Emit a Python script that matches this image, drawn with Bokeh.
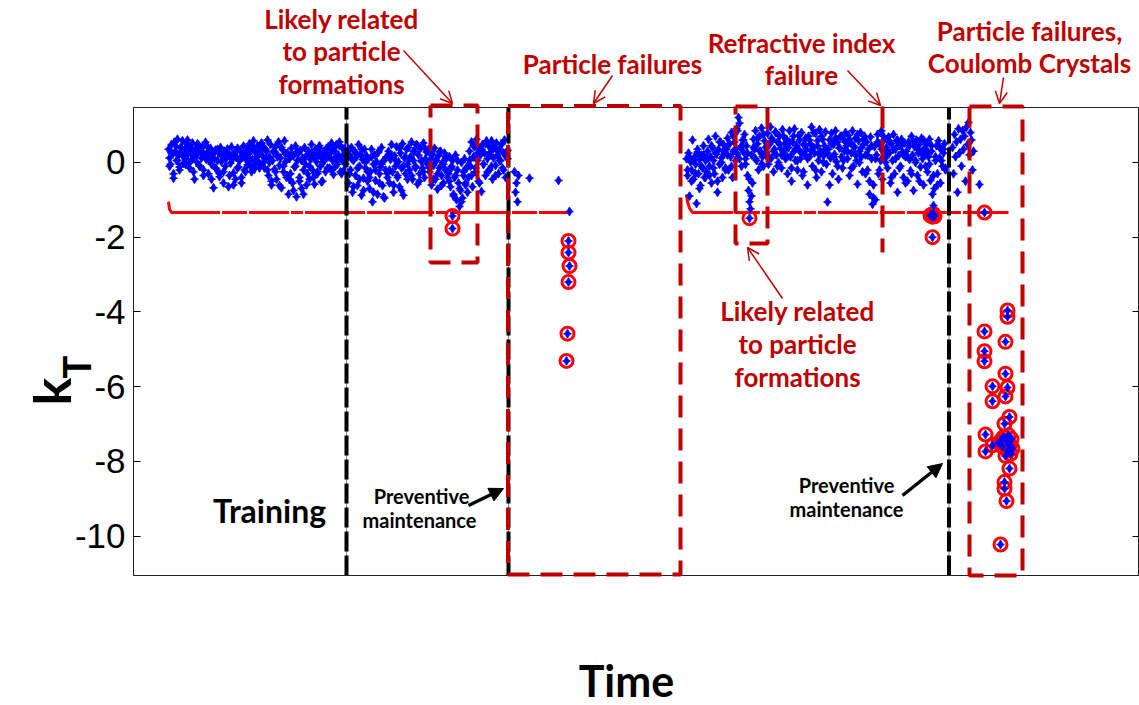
import numpy as np
from bokeh.plotting import figure
from bokeh.models import (Range1d, LinearAxis, FixedTicker, Label, Arrow,
                          OpenHead, NormalHead)
from bokeh.embed import file_html
from bokeh.resources import INLINE

# ---------------- data (time index, k_T values) -------------
seg1_start = 35
seg1_kt = [
    0.35, 0.12, -0.05, 0.48, 0.22, -0.42, 0.55, 0.30, 0.05, 0.62, 0.18, -0.12, 0.40, 0.26, 0.58, -0.02, 0.34, 0.10, 0.50, 0.21,
    0.44, -0.15, 0.28, 0.06, 0.52, 0.15, -0.45, 0.36, 0.02, 0.24, 0.47, -0.08, 0.31, 0.12, 0.40, -0.20, 0.18, 0.54, 0.08, 0.27,
    -0.30, 0.14, 0.38, -0.05, 0.22, -0.68, 0.10, 0.33, -0.18, 0.05, 0.26, -0.38, 0.40, 0.02, 0.17, -0.25, 0.30, -0.10, 0.12, 0.36,
    -0.65, 0.20, -0.02, 0.42, 0.08, -0.28, 0.25, -0.45, 0.15, 0.38, -0.12, 0.04, 0.30, -0.55, 0.18, 0.44, -0.20, 0.10, 0.28, -0.06,
    0.22, 0.50, -0.10, 0.35, 0.08, 0.58, -0.18, 0.26, 0.14, 0.45, 0.02, 0.32, -0.05, 0.52, 0.18, 0.40, -0.15, 0.10, 0.30, 0.60,
    -0.35, 0.15, 0.48, -0.60, 0.05, 0.28, -0.18, 0.42, -0.45, 0.20, 0.55, -0.08, 0.12, -0.68, 0.34, -0.25, 0.58, 0.02, -0.40, 0.25,
    -0.85, 0.10, -0.30, 0.38, -0.55, 0.18, -0.12, 0.44, -0.92, 0.05, 0.25, -0.40, 0.32, -0.70, 0.12, -0.20, 0.40, -0.05, -0.60, 0.20,
    0.30, -0.45, 0.08, 0.48, -0.20, 0.15, -0.58, 0.35, 0.02, -0.30, 0.22, 0.45, -0.10, 0.12, -0.50, 0.28, 0.05, -0.25, 0.38, 0.18,
    0.42, -0.15, 0.25, 0.52, 0.05, -0.32, 0.30, 0.15, 0.48, -0.05, 0.20, 0.55, -0.25, 0.10, 0.38, 0.02, -0.18, 0.28, 0.45, 0.12,
    -0.55, 0.20, -0.20, 0.40, -0.80, 0.05, 0.30, -0.35, 0.15, -0.62, 0.48, -0.10, 0.22, -0.88, 0.08, -0.42, 0.35, -0.15, 0.18, -0.50,
    0.10, -0.70, -0.25, 0.35, -1.05, -0.05, 0.20, -0.48, 0.02, -0.85, 0.28, -0.30, -0.12, 0.40, -0.62, 0.05, -0.95, -0.20, 0.15, -0.40,
    0.30, -0.55, 0.08, 0.48, -0.25, -0.80, 0.18, -0.10, 0.42, -0.40, 0.02, -0.65, 0.25, -0.15, 0.50, -0.88, 0.12, -0.30, 0.35, -0.05,
    0.40, -0.20, 0.15, 0.55, -0.45, 0.05, 0.30, -0.10, 0.48, -0.58, 0.20, -0.30, 0.38, 0.02, -0.15, 0.52, -0.40, 0.10, 0.28, -0.05,
    0.35, -0.25, 0.10, -0.60, 0.22, -0.08, 0.38, -0.45, 0.05, -0.72, 0.18, -0.15, 0.30, -0.35, 0.00, -0.55, 0.25, -0.20, 0.12, -0.40,
    -0.30, 0.15, -0.65, -0.10, 0.05, -0.85, -0.40, 0.20, -1.00, -0.20, -0.55, -1.18, -0.75, 0.00, -0.95, -0.35, 0.10, -0.60, -0.15, -0.80,
    -0.40, 0.30, -0.10, 0.55, -0.65, 0.15, 0.42, -0.25, 0.62, 0.05, -0.50, 0.35, 0.20, -0.78, 0.48, -0.05, 0.25, -0.35, 0.58, 0.10,
    0.45, -0.20, 0.28, 0.58, -0.45, 0.12, 0.40, -0.08, 0.52, 0.20, -0.30, 0.35, 0.05, 0.48, -0.15, 0.25, 0.60, -0.40, 0.15, 0.32,
]
# second reading per two time steps (same period)
seg1b_start = 36
seg1b_kt = [
    -0.10, 0.25, -0.30, 0.45, 0.05, -0.20, 0.38, 0.15, -0.05, 0.60,
    0.00, 0.35, -0.25, 0.20, 0.50, -0.10, 0.30, -0.35, 0.12, 0.42,
    0.05, -0.45, 0.25, -0.15, 0.35, -0.30, 0.18, -0.55, 0.10, 0.28,
    -0.35, 0.12, -0.60, 0.30, -0.15, 0.05, -0.40, 0.22, -0.25, 0.38,
    0.10, -0.25, 0.40, -0.05, 0.25, -0.15, 0.50, 0.00, 0.35, -0.20,
    0.00, -0.50, 0.30, -0.25, 0.15, -0.62, 0.40, -0.10, 0.22, -0.35,
    -0.45, 0.20, -0.75, -0.10, 0.30, -0.50, 0.05, -0.85, 0.15, -0.30,
    -0.10, 0.25, -0.40, 0.10, -0.25, 0.38, -0.52, 0.02, 0.20, -0.15,
    0.15, -0.20, 0.35, -0.10, 0.05, 0.45, -0.30, 0.20, -0.05, 0.30,
    -0.30, 0.10, -0.65, 0.25, -0.15, -0.45, 0.35, -0.75, 0.00, -0.25,
    -0.40, 0.15, -0.80, -0.20, 0.25, -0.55, -0.05, -0.92, 0.10, -0.30,
    -0.20, 0.20, -0.60, 0.05, -0.35, 0.38, -0.75, -0.10, 0.15, -0.45,
    0.10, -0.35, 0.30, -0.15, 0.45, -0.50, 0.05, -0.25, 0.35, -0.05,
    -0.15, 0.20, -0.45, 0.05, -0.30, 0.28, -0.62, -0.05, 0.15, -0.25,
    -0.50, -0.15, -0.90, -0.35, 0.05, -0.70, -1.05, -0.25, -0.55, -0.10,
    0.05, -0.35, 0.45, -0.15, 0.25, -0.55, 0.35, -0.05, 0.50, -0.25,
    0.20, -0.10, 0.40, -0.35, 0.30, 0.05, 0.50, -0.20, 0.25, 0.10,
]
seg2_start = 553
seg2_kt = [
    0.10, -0.35, 0.25, -0.90, 0.02, -0.20, 0.60, -0.45, 0.15, -0.05, -1.10, 0.28, -0.30, 0.08, -0.62, 0.20, -0.15, 0.45, -0.40, 0.05,
    -0.25, 0.30, 0.62, -0.10, 0.15, -0.55, 0.40, 0.05, -0.30, 0.70, 0.22, -0.80, 0.35, -0.05, 0.55, 0.12, -0.40, 0.48, 0.25, -0.15,
    0.35, 0.65, -0.20, 0.50, 0.15, 0.80, -0.40, 0.30, 0.55, 0.05, 0.90, 0.22, 1.20, 1.05, 0.40, -0.10, 0.60, 0.28, 0.75, 0.10,
    0.45, -0.35, -0.75, -1.05, -1.24, 0.20, -0.55, 0.62, 0.35, 0.85, 0.05, 0.50, -0.20, 0.70, 0.30, 0.92, 0.15, -0.10, 0.58, 0.40,
    0.25, 0.78, -0.05, 0.48, 0.95, 0.12, 0.60, -0.25, 0.35, 0.82, 0.20, 0.55, 0.00, 0.70, 0.38, -0.15, 0.88, 0.28, 0.50, 0.10,
    0.62, -0.30, 0.40, 0.85, 0.15, -0.50, 0.55, 0.28, 0.90, 0.05, 0.45, -0.20, 0.72, 0.32, 0.10, 0.80, -0.35, 0.48, 0.22, 0.65,
    0.35, -0.60, 0.70, 0.15, 0.50, 0.95, -0.10, 0.40, 0.25, 0.78, -0.40, 0.58, 0.05, 0.88, 0.30, -0.25, 0.62, 0.18, 0.45, 0.82,
    -0.05, -1.06, 0.35, 0.60, 0.12, 0.78, -0.30, 0.48, 0.22, 0.85, 0.02, 0.55, -0.45, 0.38, 0.70, 0.15, -0.15, 0.62, 0.30, 0.80,
    0.45, 0.10, 0.72, -0.35, 0.52, 0.25, 0.85, -0.10, 0.40, 0.65, 0.05, -0.58, 0.58, 0.30, 0.80, 0.15, -0.25, 0.48, 0.70, 0.20,
    0.55, -0.20, 0.35, -0.85, 0.68, 0.10, -1.12, -0.60, 0.42, -1.00, 0.20, 0.75, -0.30, 0.50, 0.05, 0.85, -0.45, 0.30, 0.62, 0.12,
    0.40, -0.15, 0.68, 0.25, -0.55, 0.50, 0.05, 0.75, -0.30, 0.35, 0.58, -0.80, 0.18, 0.45, -0.10, 0.62, 0.28, -0.40, 0.52, 0.15,
    0.30, -0.50, 0.55, 0.08, -0.22, 0.70, 0.20, -0.75, 0.42, 0.00, 0.60, -0.35, 0.25, 0.48, -0.12, 0.65, 0.10, -0.60, 0.38, 0.22,
    0.50, -0.25, 0.15, 0.62, -0.48, 0.30, -0.85, -1.15, -0.70, 0.05, 0.45, -0.30, 0.58, 0.12, -0.55, 0.35, -0.10, 0.25, 0.50, -0.20,
]
seg2b_start = 554
seg2b_kt = [
    -0.20, 0.15, -0.50, 0.05, -0.30, 0.35, -0.70, -0.10, 0.20, -0.40,
    0.10, -0.35, 0.45, -0.15, 0.25, -0.50, 0.55, 0.00, 0.30, -0.20,
    0.20, 0.50, -0.10, 0.70, 0.35, 0.85, 0.10, 0.45, 0.60, -0.05,
    0.25, -0.45, -0.90, 0.40, 0.10, 0.65, 0.30, -0.05, 0.75, 0.20,
    0.45, 0.10, 0.65, 0.30, 0.80, -0.10, 0.50, 0.20, 0.70, 0.35,
    0.15, 0.55, -0.15, 0.70, 0.35, 0.05, 0.60, 0.25, -0.25, 0.45,
    0.10, 0.60, 0.30, 0.80, -0.20, 0.45, 0.20, 0.70, 0.00, 0.35,
    0.25, -0.60, 0.50, 0.15, 0.65, -0.10, 0.40, 0.70, 0.05, 0.55,
    0.30, 0.60, -0.15, 0.45, 0.20, 0.75, 0.00, 0.40, 0.62, -0.30,
    0.20, -0.50, 0.45, -0.95, 0.10, 0.55, -0.20, 0.35, 0.70, 0.00,
    0.25, 0.55, -0.40, 0.35, 0.10, 0.60, -0.15, 0.45, 0.20, -0.55,
    0.15, 0.45, -0.30, 0.55, 0.05, 0.35, -0.50, 0.25, 0.60, -0.10,
    0.30, -0.05, 0.45, -0.35, 0.15, -0.60, 0.40, 0.05, 0.35, -0.15,
]
seg3_start = 819
seg3_kt = [0.40, -0.30, 0.75, 0.15, 0.55, -0.80, 0.90, 0.25, 0.62, -0.10, 0.85,
           0.35, 0.70, -0.50, 0.95, 0.48, 1.07, 0.20, 0.80, 0.60, -0.20, 0.30]

sparse_t = [381, 382, 383, 384, 385, 396, 425, 436, 846]
sparse_kt = [-0.25, -0.80, -0.55, -1.05, -0.35, -0.42, -0.48, -1.31, -0.59]

# samples beyond the control limit (flagged)
out_t = [319, 319, 435, 435, 436, 435, 434, 433, 616,
         798, 799, 800, 797, 801, 799, 851,
         874, 874, 851, 872, 851, 851, 872, 859, 874, 872, 859, 876, 871, 852, 859, 852,
         876, 871, 871, 873, 867,
         870, 873, 876, 869, 874, 878, 872, 877, 865, 875, 879, 868]
out_kt = [-1.43, -1.77, -2.10, -2.41, -2.77, -3.20, -4.58, -5.31, -1.49,
          -1.40, -1.45, -1.38, -1.42, -1.44, -2.00, -1.34,
          -3.96, -4.13, -4.52, -4.80, -5.05, -5.32, -5.65, -5.99, -6.02, -6.26, -6.39, -6.81, -6.99, -7.28, -7.57, -7.73,
          -8.19, -8.55, -8.73, -9.06, -10.22,
          -7.35, -7.45, -7.55, -7.60, -7.70, -7.40, -7.85, -7.80, -7.50, -7.30, -7.65, -7.42]

# control limit
limit1_t = [35, 36, 38, 436]
limit1_kt = [-1.05, -1.25, -1.34, -1.34]
limit2_t = [553, 554, 556, 559, 875]
limit2_kt = [-0.85, -1.05, -1.22, -1.34, -1.34]

# preventive maintenance / end of training (time index)
events_t = [213, 375, 815.5]

y_ticks = [-10, -8, -6, -4, -2, 0]
y_tick_labels = ["-10", "-8", "-6", "-4", "-2", "0"]

RED = "#C00000"
FONT = "Lato"

# ---------------- main figure ----------------
FL, FT, FB = 133, 107, 575
W, H = 1139, 705
YMIN, YMAX = -11.05, 1.47
p = figure(width=W, height=H, output_backend="svg", toolbar_location=None,
           x_range=Range1d(0, W - FL), y_range=Range1d(YMIN, YMAX),
           min_border_left=FL, min_border_right=0, min_border_top=FT,
           min_border_bottom=H - FB)
p.grid.visible = False
p.outline_line_color = "#222222"
p.outline_line_width = 1
p.background_fill_color = "white"
p.border_fill_color = "white"

yax = p.yaxis[0]
yax.ticker = FixedTicker(ticks=y_ticks)
yax.major_label_overrides = {float(t): s for t, s in zip(y_ticks, y_tick_labels)}
yax.major_tick_in = 7
yax.major_tick_out = 0
yax.minor_tick_line_color = None
yax.major_label_text_font = "Liberation Sans"
yax.major_label_text_font_size = "35px"
yax.major_label_text_color = "black"
yax.major_label_standoff = 8
yax.axis_line_color = "#222222"

xax = p.xaxis[0]
xax.ticker = FixedTicker(ticks=[])
xax.major_tick_line_color = None
xax.minor_tick_line_color = None
xax.axis_line_color = "#222222"

rax = LinearAxis(ticker=FixedTicker(ticks=y_ticks), major_tick_in=7, major_tick_out=0,
                 minor_tick_line_color=None,
                 major_label_overrides={float(t): "" for t in y_ticks},
                 major_label_standoff=0, axis_line_color=None)
p.add_layout(rax, "right")

# control limit
LIMIT_DASH = "60 2 25 2 40 2 12 2"
p.line(limit1_t, limit1_kt, line_color="red", line_width=3, line_dash=LIMIT_DASH)
p.line(limit2_t, limit2_kt, line_color="red", line_width=3, line_dash=LIMIT_DASH)

# data points
t_all = (list(range(seg1_start, seg1_start + len(seg1_kt)))
         + list(range(seg1b_start, seg1b_start + 2 * len(seg1b_kt), 2))
         + list(range(seg2_start, seg2_start + len(seg2_kt)))
         + list(range(seg2b_start, seg2b_start + 2 * len(seg2b_kt), 2))
         + list(range(seg3_start, seg3_start + len(seg3_kt)))
         + sparse_t + out_t)
kt_all = seg1_kt + seg1b_kt + seg2_kt + seg2b_kt + seg3_kt + sparse_kt + out_kt

p.scatter(out_t, out_kt, marker="circle", size=13, fill_color=None,
          line_color="red", line_width=3)
p.scatter(t_all, kt_all, marker="diamond", size=9, fill_color="blue",
          line_color="blue", line_width=0.5)
p.scatter(t_all, kt_all, marker="cross", size=8, line_color="blue", line_width=1.5)

# maintenance lines
for t in events_t:
    p.line([t, t], [YMIN, YMAX], line_color="#888888", line_width=1)
    p.line([t, t], [YMIN, YMAX], line_color="black", line_width=4, line_dash="20 4")

# ---------------- overlay (annotations in page pixels), separate root ----------------
o = figure(width=W, height=H, output_backend="svg", toolbar_location=None,
           x_range=Range1d(0, W), y_range=Range1d(H, 0),
           x_axis_type=None, y_axis_type=None, min_border=0)
o.grid.visible = False
o.outline_line_color = None
o.background_fill_color = None
o.border_fill_color = None
o.styles = {"position": "absolute", "top": "0px", "left": "0px"}

def box(x0, x1, y0, y1):
    o.line([x0, x1, x1, x0, x0], [y0, y0, y1, y1, y0],
           line_color=RED, line_width=4, line_dash="22 11")

box(430, 477, 105, 262)
box(507.5, 680, 105.5, 574)
box(735, 767, 106, 243)
box(969, 1022, 106, 575)
o.line([882, 882], [106, 252], line_color=RED, line_width=4, line_dash="22 11")

def txt(s, x, y, size, color=RED):
    o.add_layout(Label(x=x, y=y, text=s, text_font=FONT, text_font_style="bold",
                       text_font_size=size, text_color=color, text_align="center",
                       text_baseline="middle"))

txt("Likely related", 341, 18, "26px")
txt("to particle", 341, 50, "26px")
txt("formations", 341, 83, "26px")
txt("Particle failures", 612, 63, "26px")
txt("Refractive index", 801, 42, "26px")
txt("failure", 801, 74, "26px")
txt("Particle failures,", 1029, 30, "26px")
txt("Coulomb Crystals", 1029, 62, "26px")
txt("Likely related", 797, 310, "26px")
txt("to particle", 797, 343, "26px")
txt("formations", 797, 376, "26px")
txt("Training", 269, 510, "32px", color="black")
txt("Preventive", 421, 495, "20px", color="black")
txt("maintenance", 419, 519, "20px", color="black")
txt("Preventive", 846, 484, "20px", color="black")
txt("maintenance", 846, 508, "20px", color="black")
txt("Time", 626, 680, "43px", color="black")

# y label k_T (rotated, with subscript)
o.add_layout(Label(x=50, y=405, text="k", angle=np.pi / 2, text_font=FONT,
                   text_font_style="bold", text_font_size="52px", text_color="black",
                   text_align="left", text_baseline="alphabetic"))
o.add_layout(Label(x=75, y=378, text="T", angle=np.pi / 2, text_font=FONT,
                   text_font_style="bold", text_font_size="38px", text_color="black",
                   text_align="left", text_baseline="alphabetic"))

def red_arrow(x0, y0, x1, y1):
    o.add_layout(Arrow(end=OpenHead(size=12, line_color=RED, line_width=1.5),
                       x_start=x0, y_start=y0, x_end=x1, y_end=y1,
                       line_color=RED, line_width=1.5))

def black_arrow(x0, y0, x1, y1):
    o.add_layout(Arrow(end=NormalHead(size=14, line_color="black", fill_color="black"),
                       x_start=x0, y_start=y0, x_end=x1, y_end=y1,
                       line_color="black", line_width=3.5))

red_arrow(403, 50, 452, 103)
red_arrow(612, 75, 593, 103)
red_arrow(847, 70, 880, 105)
red_arrow(1003, 77, 999, 103)
red_arrow(782, 298, 747, 247)
black_arrow(468, 505, 503, 488)
black_arrow(902, 495, 942, 463)

open("out.html", "w").write(file_html([p, o], INLINE))
